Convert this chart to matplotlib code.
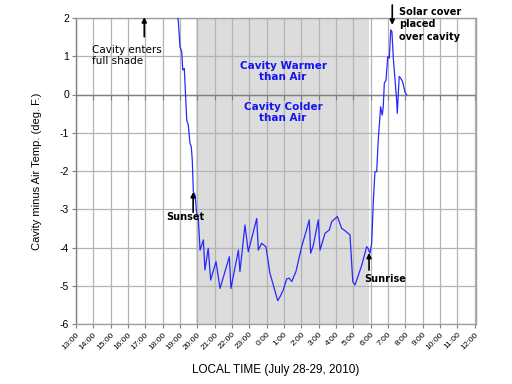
import matplotlib
matplotlib.use("Agg")
import matplotlib.pyplot as plt
import numpy as np

# ---- data ----
hours = [18.75, 18.90, 19.00, 19.10, 19.16, 19.25, 19.39, 19.48, 19.58, 19.65,
         19.71, 19.77, 19.87, 19.96, 20.06, 20.16, 20.35, 20.44, 20.63, 20.77,
         21.08, 21.31, 21.85, 21.94, 22.37, 22.46, 22.75, 22.94, 23.43, 23.52,
         23.71, 23.96, 24.19, 24.64, 24.77, 24.96, 25.16, 25.30, 25.45, 25.69,
         26.02, 26.27, 26.46, 26.54, 26.69, 26.98, 27.08, 27.37, 27.62, 27.75,
         28.08, 28.33, 28.46, 28.71, 28.81, 28.97, 29.10, 29.49, 29.77, 29.85,
         29.96, 30.06, 30.16, 30.25, 30.35, 30.44, 30.58, 30.67, 30.73, 30.79,
         30.89, 30.99, 31.08, 31.16, 31.23, 31.31, 31.50, 31.54, 31.65, 31.73,
         31.85, 31.98, 32.08]
diff_temp = [2.20, 1.95, 1.25, 1.12, 0.64, 0.68, -0.67, -0.80, -1.28, -1.36,
             -1.71, -2.54, -2.63, -3.10, -3.28, -4.07, -3.80, -4.59, -4.02, -4.85,
             -4.37, -5.07, -4.24, -5.07, -4.07, -4.63, -3.41, -4.11, -3.24, -4.07,
             -3.89, -3.98, -4.67, -5.39, -5.29, -5.11, -4.82, -4.80, -4.89, -4.63,
             -3.98, -3.59, -3.28, -4.15, -3.95, -3.28, -4.07, -3.63, -3.54, -3.33,
             -3.19, -3.50, -3.54, -3.63, -3.67, -4.89, -4.98, -4.46, -3.98, -4.02,
             -4.15, -3.89, -2.76, -2.02, -2.02, -1.19, -0.32, -0.54, -0.32, 0.29,
             0.38, 0.99, 0.95, 1.69, 1.64, 0.95, -0.14, -0.49, 0.47, 0.43,
             0.33, 0.07, -0.01]

tick_hours = list(range(13, 37))
tick_labels = [f"{h % 24}:00" for h in tick_hours]
y_ticks = [2, 1, 0, -1, -2, -3, -4, -5, -6]
y_tick_labels = ["2", "1", "0", "-1", "-2", "-3", "-4", "-5", "-6"]
night_span = [19.93, 29.90]

# ---- figure ----
fig = plt.figure(figsize=(5.12, 3.84), dpi=100)
ax = fig.add_axes([76/512, 1-324/384, 400/512, 306/384])

ax.set_xlim(13, 13 + 400/17.33)
ax.set_ylim(-6, 2)

ax.axvspan(night_span[0], night_span[1], color="#dcdcdc", zorder=0.2, lw=0)

ax.set_xticks(tick_hours)
ax.set_xticklabels(tick_labels, rotation=45, ha="right", rotation_mode="anchor",
                   fontsize=6, family="Liberation Sans")
ax.set_yticks(y_ticks)
ax.set_yticklabels(y_tick_labels, fontsize=7.5, family="Liberation Sans")
ax.grid(True, color="#b4b4b4", lw=0.9)
ax.set_axisbelow(True)
ax.tick_params(axis="both", length=3, color="#808080", width=0.8)
ax.tick_params(axis="x", pad=2)
ax.tick_params(axis="y", pad=2)
for s in ax.spines.values():
    s.set_color("#a0a0a0")
    s.set_linewidth(1.0)
ax.spines["left"].set_color("#808080")

# zero line with tick marks
ax.axhline(0, color="#808080", lw=1.0, zorder=1.5)
ax.plot(tick_hours, [0]*len(tick_hours), linestyle="none", marker=3, ms=3.5,
        mew=0.8, color="#808080", zorder=1.5)

ax.plot(hours, diff_temp, color="#2828ff", lw=0.9, zorder=3)

ax.set_ylabel("Cavity minus Air Temp. (deg. F.)", fontsize=8, family="Liberation Sans",
              va="center")
ax.yaxis.set_label_coords(-(76-37)/400, 0.5)
ax.set_xlabel("LOCAL TIME (July 28-29, 2010)", fontsize=8.5, family="Liberation Sans",
              va="center")
ax.xaxis.set_label_coords(0.5, -(370-324)/306)

arrow_kw = dict(arrowstyle="-|>", color="black", lw=1.2, mutation_scale=7,
                shrinkA=0, shrinkB=0)

# Cavity enters full shade
ax.annotate("", xy=(16.94, 2.02), xytext=(16.94, 1.51), arrowprops=arrow_kw,
            annotation_clip=False)
ax.text(13.94, 1.30, "Cavity enters\nfull shade", fontsize=7.5, family="DejaVu Sans",
        ha="left", va="top", linespacing=1.1)

# Sunset
ax.annotate("", xy=(19.76, -2.55), xytext=(19.76, -3.08), arrowprops=arrow_kw)
ax.text(19.29, -3.20, "Sunset", fontsize=7, family="DejaVu Sans", weight="bold",
        ha="center", va="center")

# Sunrise
ax.annotate("", xy=(29.91, -4.14), xytext=(29.91, -4.59), arrowprops=arrow_kw)
ax.text(29.62, -4.83, "Sunrise", fontsize=7, family="DejaVu Sans", weight="bold",
        ha="left", va="center")

# Solar cover
ax.annotate("", xy=(31.25, 1.82), xytext=(31.25, 2.34), arrowprops=arrow_kw,
            annotation_clip=False)
ax.text(31.64, 2.30, "Solar cover\nplaced\nover cavity", fontsize=7,
        family="DejaVu Sans", weight="bold", ha="left", va="top",
        linespacing=1.35, clip_on=False)

# Warmer / Colder
ax.text(24.95, 0.60, "Cavity Warmer\nthan Air", fontsize=7.5, family="DejaVu Sans",
        weight="bold", color="#1414f0", ha="center", va="center", linespacing=1.2)
ax.text(24.95, -0.47, "Cavity Colder\nthan Air", fontsize=7.5, family="DejaVu Sans",
        weight="bold", color="#1414f0", ha="center", va="center", linespacing=1.2)

fig.savefig("out.png", dpi=100)
